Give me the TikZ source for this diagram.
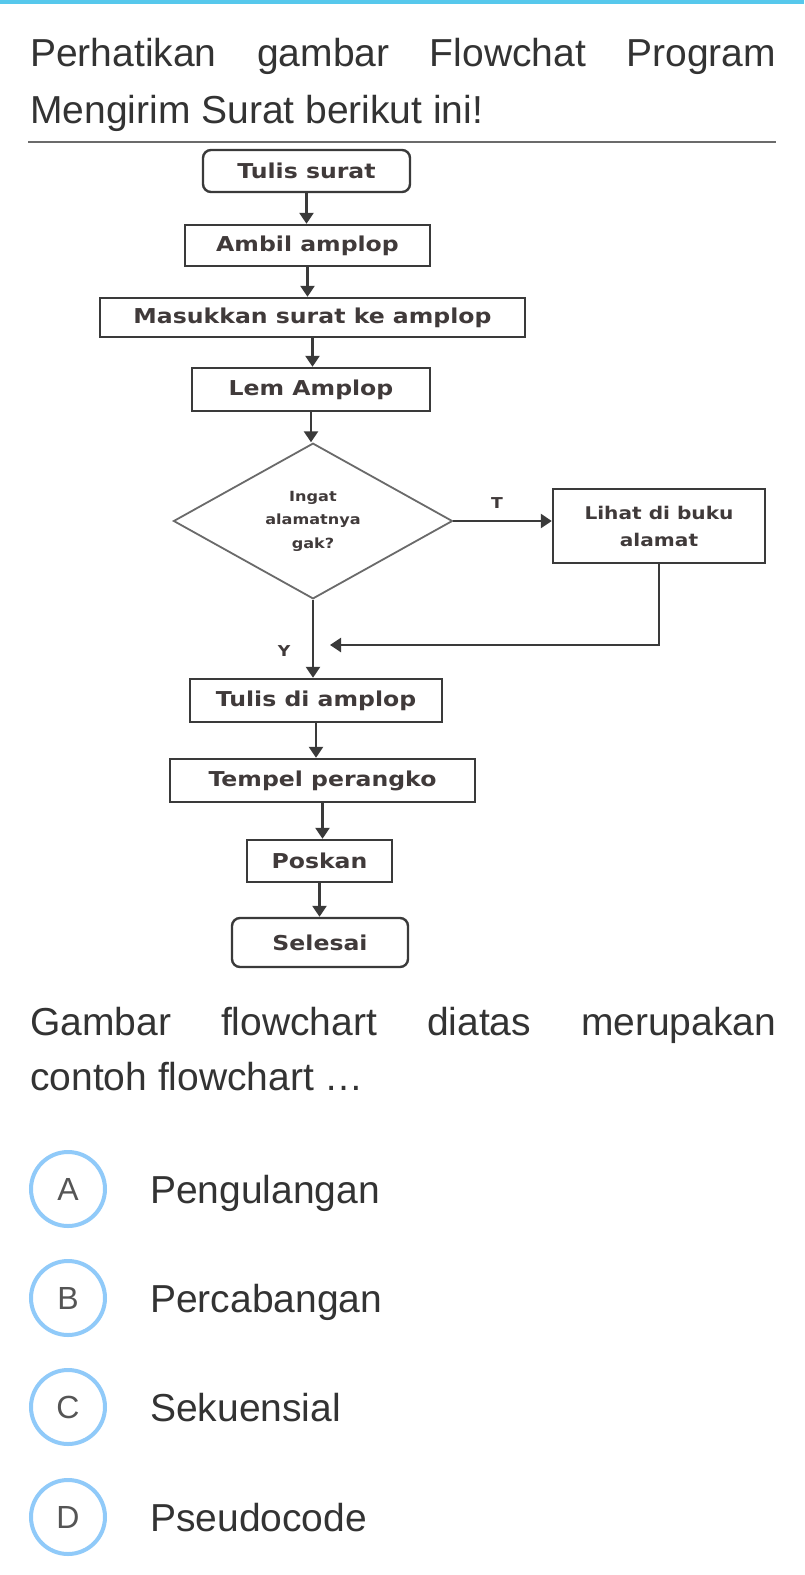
\documentclass[tikz,border=0pt]{standalone}
\usepackage{fontspec}
\setmainfont{Liberation Sans}
\newfontfamily\fcfont[FakeStretch=1.15]{DejaVu Sans}
\usetikzlibrary{shapes.geometric,arrows.meta,calc}
\definecolor{txt}{HTML}{333333}
\definecolor{topline}{HTML}{56C8EC}
\definecolor{rulegray}{HTML}{6B6B6B}
\definecolor{boxc}{HTML}{3A3A3A}
\definecolor{diac}{HTML}{6A6A6A}
\definecolor{fct}{HTML}{403A3A}
\definecolor{optblue}{HTML}{90CAF9}
\definecolor{letgray}{HTML}{555555}
\tikzset{
  body/.style={anchor=base west, inner sep=0pt, text=txt, font=\fontsize{39}{47}\selectfont},
  fbox/.style={draw=boxc, line width=2.4pt, inner sep=0pt, text=fct,
    font=\fcfont\bfseries\fontsize{20.5}{24}\selectfont},
  rbox/.style={fbox, rounded corners=8pt},
  dia/.style={diamond, draw=diac, line width=1.8pt, inner sep=0pt, text=fct, align=center,
    font=\fcfont\bfseries\fontsize{14}{23.5}\selectfont},
  arr/.style={-{Triangle[length=11pt,width=14pt]}, line width=2.4pt, draw=boxc},
  lbl/.style={inner sep=0pt, text=fct, font=\fcfont\bfseries\fontsize{15}{15}\selectfont},
  opt/.style={circle, draw=optblue, line width=4pt, minimum size=74pt, inner sep=0pt,
    text=letgray, font=\fontsize{32}{32}\selectfont},
}
\begin{document}
\begin{tikzpicture}[x=1pt,y=-1pt]
\useasboundingbox (0,0) rectangle (804,1575);
\fill[white] (0,0) rectangle (804,1575);
\fill[topline] (0,0) rectangle (804,3.5);

% title
\node[body] (t1) at (30,66) {\makebox[746pt][s]{Perhatikan gambar Flowchat Program}};
\node[body] (t2) at (30,123) {Mengirim Surat berikut ini!};
\draw[line width=2.5pt, rulegray] (28,142) -- (776,142);

% flowchart
\node[rbox, minimum width=207pt, minimum height=42pt] (ts) at (306.5,171) {Tulis surat};
\node[fbox, minimum width=245pt, minimum height=41pt] (aa) at (307.5,245.5) {Ambil amplop};
\node[fbox, minimum width=425pt, minimum height=39pt] (ms) at (312.5,317.5) {Masukkan surat ke amplop};
\node[fbox, minimum width=238pt, minimum height=43pt] (la) at (311,389.5) {Lem Amplop};
\node[dia, minimum width=279pt, minimum height=154pt] (dec) at (313,521) {Ingat\\alamatnya\\gak?};
\node[fbox, minimum width=212pt, minimum height=74pt, align=center,
      font=\fcfont\bfseries\fontsize{17.5}{27}\selectfont] (lb) at (659,526) {Lihat di buku\\alamat};
\node[fbox, minimum width=252pt, minimum height=43pt] (td) at (316,700.5) {Tulis di amplop};
\node[fbox, minimum width=305pt, minimum height=43pt] (tp) at (322.5,780.5) {Tempel perangko};
\node[fbox, minimum width=145pt, minimum height=42pt] (pk) at (319.5,861) {Poskan};
\node[rbox, minimum width=176pt, minimum height=49pt] (sl) at (320,942.5) {Selesai};

\draw[arr] (ts.south) -- (ts.south |- aa.north);
\draw[arr] (aa.south) -- (aa.south |- ms.north);
\draw[arr] (ms.south) -- (ms.south |- la.north);
\draw[arr] (la.south) -- (la.south |- dec.north);
\draw[arr] (dec.east) -- (dec.east -| lb.west);
\draw[arr] (dec.south) -- (dec.south |- td.north);
\coordinate (ret) at (330,645);
\draw[arr] (lb.south) |- (ret);
\draw[arr] (td.south) -- (td.south |- tp.north);
\draw[arr] (tp.south) -- (tp.south |- pk.north);
\draw[arr] (pk.south) -- (pk.south |- sl.north);
\node[lbl] (lt) at (497,503) {T};
\node[lbl] (ly) at (284,651) {Y};

% question
\node[body] (g1) at (30,1035) {\makebox[746pt][s]{Gambar flowchart diatas merupakan}};
\node[body] (g2) at (30,1090) {contoh flowchart \dots};

% options
\node[opt] (ca) at (68,1189) {A};
\node[body] (oa) at (150,1203) {Pengulangan};
\node[opt] (cb) at (68,1298) {B};
\node[body] (ob) at (150,1312) {Percabangan};
\node[opt] (cc) at (68,1407) {C};
\node[body] (oc) at (150,1421) {Sekuensial};
\node[opt] (cd) at (68,1517) {D};
\node[body] (od) at (150,1531) {Pseudocode};
\end{tikzpicture}
\end{document}
